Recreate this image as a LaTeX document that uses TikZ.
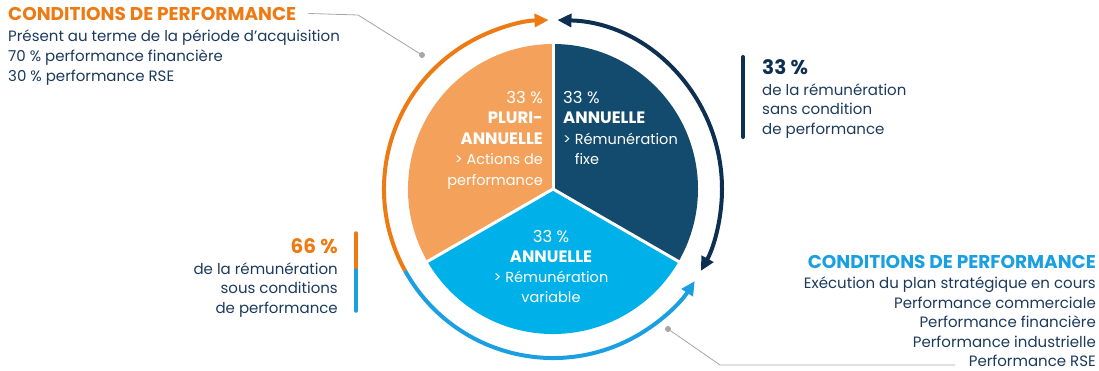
\documentclass[tikz,border=0pt]{standalone}
\usepackage{fontspec}
\setmainfont{Poppins}
\usepackage{tikz}
\usetikzlibrary{arrows.meta}

\definecolor{navytxt}{HTML}{1B3A5C}
\definecolor{orangefg}{HTML}{EE7A14}
\definecolor{orangepie}{HTML}{F4A25B}
\definecolor{navypie}{HTML}{134B6E}
\definecolor{bluepie}{HTML}{00B0E9}
\definecolor{navyarc}{HTML}{0D2F52}
\definecolor{bluearc}{HTML}{1A9FE1}
\definecolor{leadgray}{HTML}{A6A6A6}

\newcommand{\heavyline}[1]{{\fontsize{16.5}{20.5}\selectfont\bfseries #1}}
\newcommand{\pctline}[1]{{\fontsize{16.5}{20.5}\selectfont #1}}

\begin{document}
\begin{tikzpicture}[x=1pt, y=1pt, >={Triangle[length=14pt, width=13pt]},
  body txt/.style={inner sep=0pt, font=\fontsize{15}{20}\selectfont, text=navytxt},
  head txt/.style={inner sep=0pt, font=\fontsize{18.5}{20}\selectfont\bfseries},
  pct txt/.style={inner sep=0pt, font=\fontsize{20}{20}\selectfont\bfseries},
  pie txt/.style={inner sep=0pt, font=\fontsize{14.5}{20.5}\selectfont, text=white},
  ring/.style={line width=4pt},
  leader line/.style={leadgray, line width=0.8pt},
  leader dot/.style={circle, fill=leadgray, inner sep=0pt, minimum size=6pt}]

\useasboundingbox (0,0) rectangle (1099,-370);
\coordinate (c) at (553,-189);

% pie slices
\fill[navypie] (c) -- ++(90:145) arc[start angle=90, end angle=-30, radius=145] -- cycle;
\fill[bluepie] (c) -- ++(-30:145) arc[start angle=-30, end angle=-150, radius=145] -- cycle;
\fill[orangepie] (c) -- ++(210:145) arc[start angle=210, end angle=90, radius=145] -- cycle;
\foreach \a in {90,-30,210}
  \draw[white, line width=3pt] (c) -- ++(\a:146);

% outer ring arrows
\draw[ring, orangefg, ->] ([shift={(209:169)}]c) arc[start angle=209, end angle=91.5, radius=169];
\draw[ring, navyarc, <->] ([shift={(88.5:169)}]c) arc[start angle=88.5, end angle=-29, radius=169];
\draw[ring, bluearc, ->] ([shift={(209:169)}]c) arc[start angle=209, end angle=327, radius=169];

% texts in the slices (anchored on the last line)
\node[pie txt, anchor=base east, align=right] (pluri) at (543,-185)
  {\pctline{33~\%}\\\heavyline{PLURI-}\\\heavyline{ANNUELLE}\\> Actions de\\performance};
\node[pie txt, anchor=base west, align=left] (fixe) at (563,-164.5)
  {\pctline{33~\%}\\\heavyline{ANNUELLE}\\> Rémunération\\\hphantom{> }fixe};
\node[pie txt, anchor=base, align=center, font=\fontsize{14.5}{19.7}\selectfont] (variable) at (551,-302)
  {\pctline{33~\%}\\\heavyline{ANNUELLE}\\> Rémunération\\variable};

% top left conditions
\node[head txt, text=orangefg, anchor=base west] (titleL) at (8,-20) {CONDITIONS DE PERFORMANCE};
\node[body txt, anchor=base west, align=left] (bodyL) at (8,-81.5)
  {Présent au terme de la période d’acquisition\\70~\% performance financière\\30~\% performance RSE};
\coordinate (tlbend) at (358,-15);
\node[leader dot] (tldot) at (422,-55) {};
\draw[leader line] ([xshift=12pt]titleL.east) -- (tlbend) -- (tldot.center);

% left share
\draw[orangefg, line width=3.5pt, line cap=round] (356,-233) -- (356,-270);
\draw[bluearc, line width=3.5pt, line cap=round] (356,-270) -- (356,-311);
\node[pct txt, text=orangefg, anchor=base east] (pctL) at (338,-253) {66~\%};
\node[body txt, anchor=base east, align=right, font=\fontsize{15}{19.5}\selectfont] (shareL) at (338,-313)
  {de la rémunération\\sous conditions\\de performance};

% right share
\draw[navyarc, line width=4pt, line cap=round] (743,-57) -- (743,-137);
\node[pct txt, text=navyarc, anchor=base west] (pctR) at (762,-74) {33~\%};
\node[body txt, anchor=base west, align=left, font=\fontsize{15}{19.5}\selectfont] (shareR) at (762,-134)
  {de la rémunération\\sans condition\\de performance};

% bottom right conditions
\node[head txt, text=bluearc, anchor=base east] (titleR) at (1096,-268) {CONDITIONS DE PERFORMANCE};
\node[body txt, anchor=base east, align=right, font=\fontsize{15}{19.4}\selectfont] (bodyR) at (1096,-366.5)
  {Exécution du plan stratégique en cours\\Performance commerciale\\Performance financière\\Performance industrielle\\Performance RSE};
\node[leader dot] (brdot) at (668,-329) {};
\coordinate (brbend) at (720,-365);
\coordinate (brend) at (955,-365);
\draw[leader line] (brdot.center) -- (brbend) -- (brend);

\end{tikzpicture}
\end{document}
